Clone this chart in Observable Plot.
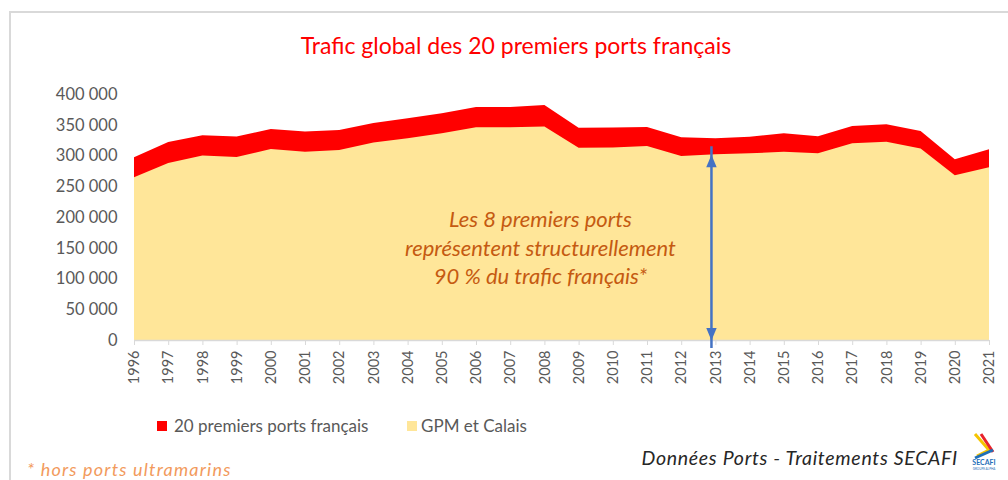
<!DOCTYPE html>
<html>
<head>
<meta charset="utf-8">
<script src="https://cdn.jsdelivr.net/npm/d3@7"></script>
<script src="https://cdn.jsdelivr.net/npm/@observablehq/plot@0.6"></script>
<style>
  html, body { margin: 0; padding: 0; background: #fff; }
  #wrap { position: relative; width: 1008px; height: 480px; overflow: hidden; font-family: Lato, "Open Sans", sans-serif; }
  #frame { position: absolute; left: 9px; top: 11px; width: 1100px; height: 600px; border-top: 2px solid #d9d9d9; border-left: 2px solid #d9d9d9; }
  #chart { position: absolute; left: 0; top: 0; }
  .abs { position: absolute; white-space: nowrap; }
  #title { left: 516px; top: 31px; transform: translateX(-50%); color: #ff0000; font-size: 23px; line-height: 28px; }
  .leg { font-size: 17px; color: #595959; line-height: 20px; top: 416px; }
  .sw { position: absolute; width: 10px; height: 10px; top: 421px; }
  #source { right: 50px; top: 445px; font-size: 19.5px; font-style: italic; color: #262626; line-height: 26px; letter-spacing: 0.7px; }
  #note { left: 27px; top: 459px; font-size: 18px; font-style: italic; color: #f29a5c; line-height: 20px; letter-spacing: 1.2px; }
  #logo { left: 971px; top: 432px; }
</style>
</head>
<body>
<div id="wrap">
  <div id="frame"></div>
  <div id="chart"></div>
  <div class="abs" id="title">Trafic global des 20 premiers ports français</div>
  <div class="sw" style="left:157px;background:#ff0000"></div>
  <div class="abs leg" style="left:174px">20 premiers ports français</div>
  <div class="sw" style="left:407px;background:#ffe699"></div>
  <div class="abs leg" style="left:421px">GPM et Calais</div>
  <div class="abs" id="source">Données Ports - Traitements SECAFI</div>
  <div class="abs" id="note">* hors ports ultramarins</div>
  <svg class="abs" id="logo" width="26" height="38" viewBox="0 0 26 38">
    <path d="M4 2 L18 18 L6 24" fill="none" stroke="#f5c400" stroke-width="3"/>
    <path d="M10 2 L22 20" fill="none" stroke="#e8232a" stroke-width="3"/>
    <path d="M4 26 L22 18" fill="none" stroke="#1f6fb8" stroke-width="3"/>
    <text x="13" y="33" text-anchor="middle" font-size="7" font-weight="bold" fill="#1f6fb8" font-family="Lato">SECAFI</text>
    <text x="13" y="37.5" text-anchor="middle" font-size="3" fill="#1f6fb8" font-family="Lato">GROUPE ALPHA</text>
  </svg>
</div>
<script>
const years = [1996,1997,1998,1999,2000,2001,2002,2003,2004,2005,2006,2007,2008,2009,2010,2011,2012,2013,2014,2015,2016,2017,2018,2019,2020,2021];
const total20 = [297000,322000,333000,331000,343000,339000,341500,353000,360500,368500,379000,379000,382000,345000,345500,346500,329500,328000,330500,336000,331500,348000,351000,340000,294000,310000];
const gpmCalais = [264500,288000,300000,297500,310500,306000,309000,321000,328000,336000,346000,346000,347000,312500,313000,315500,299000,302000,303500,306000,303500,320000,322500,311500,268000,281000];
const yTicks = [0,50000,100000,150000,200000,250000,300000,350000,400000];
const annotationLines = ["Les 8 premiers ports", "représentent structurellement", "90 % du trafic français*"];
const annotationPos = [{year: 2007.87, value: 152500}];
const arrowPos = [{year: 2012.87, from: 0, to: 302000}];

const data = years.map((y, i) => ({year: y, total: total20[i], gpm: gpmCalais[i]}));

const arrowHead = {
  draw(context, size) {
    const s = Math.sqrt(size);
    context.moveTo(0, 0);
    context.lineTo(-s * 0.42, s);
    context.lineTo(s * 0.42, s);
    context.closePath();
  }
};

const fmt = d => d3.format(",")(d).replace(/,/g, " ");

const chart = Plot.plot({
  width: 1008,
  height: 480,
  marginLeft: 134,
  marginRight: 19,
  marginTop: 94,
  marginBottom: 140,
  style: {fontFamily: "Lato, 'Open Sans', sans-serif", background: "transparent", overflow: "visible"},
  x: {domain: [1996, 2021]},
  y: {domain: [0, 400000]},
  marks: [
    Plot.areaY(data, {x: "year", y: "total", fill: "#ff0000"}),
    Plot.areaY(data, {x: "year", y: "gpm", fill: "#ffe699"}),
    Plot.ruleY([0], {stroke: "#d9d9d9", strokeWidth: 1.5}),
    Plot.axisX({ticks: years, tickFormat: d => String(d), tickRotate: -90, tickSize: 5, tickPadding: 5, stroke: "#d9d9d9", fill: "#595959", fontSize: 14.5, label: null}),
    Plot.axisY({ticks: yTicks, tickFormat: fmt, tickSize: 0, tickPadding: 17, fill: "#595959", fontSize: 16.5, label: null}),
    Plot.ruleX(arrowPos, {x: "year", y1: "from", y2: "to", stroke: "#4472c4", strokeWidth: 2.5, insetTop: 8, insetBottom: 8}),
    Plot.dot(arrowPos, {x: "year", y: "to", symbol: arrowHead, r: 7, fill: "#4472c4", stroke: null}),
    Plot.dot(arrowPos, {x: "year", y: "from", symbol: arrowHead, r: 7, fill: "#4472c4", stroke: null, rotate: 180}),
    Plot.text(annotationPos, {x: "year", y: "value", text: () => annotationLines.join("\n"), lineHeight: 1.3, fontSize: 22, fontStyle: "italic", fill: "#c55a11", textAnchor: "middle"})
  ]
});
document.getElementById("chart").appendChild(chart);
</script>
</body>
</html>
